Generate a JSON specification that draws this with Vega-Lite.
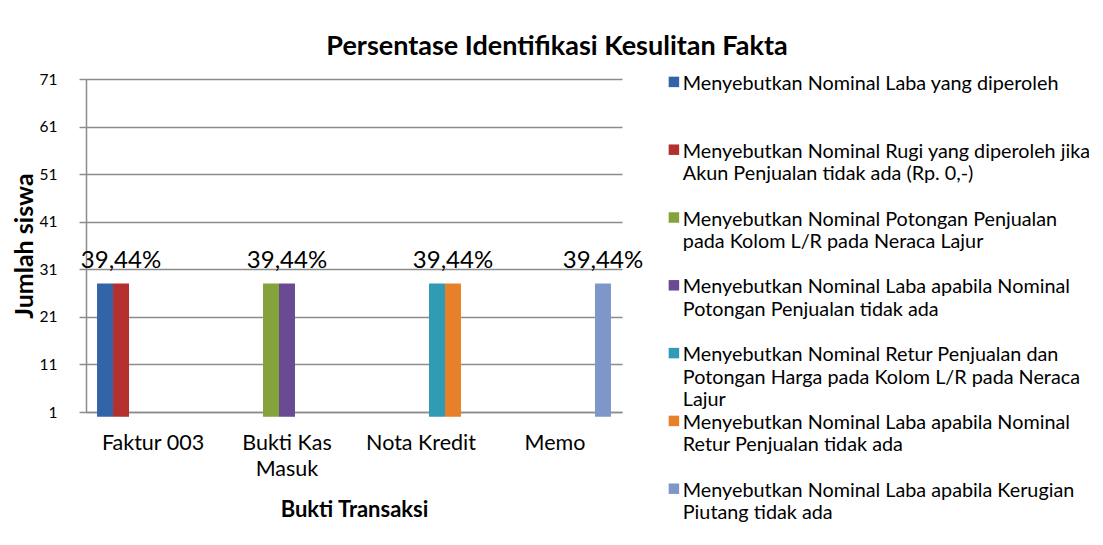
{
  "$schema": "https://vega.github.io/schema/vega-lite/v6.json",
  "width": 536,
  "height": 333,
  "padding": {"left": 12, "top": 33, "right": 5, "bottom": 5},
  "background": "white",
  "title": {
    "text": "Persentase Identifikasi Kesulitan Fakta",
    "font": "Lato",
    "fontSize": 27,
    "fontWeight": "bold",
    "color": "black",
    "anchor": "middle",
    "frame": "bounds",
    "offset": 11,
    "dx": 9
  },
  "config": {
    "font": "Lato",
    "view": {"stroke": null},
    "text": {"font": "Lato"}
  },
  "data": {
    "values": [
      {"bukti": "Faktur 003", "aspek": "Menyebutkan Nominal Laba yang diperoleh", "jumlah": 28, "persen": null},
      {"bukti": "Faktur 003", "aspek": "Menyebutkan Nominal Rugi yang diperoleh jika|Akun Penjualan tidak ada (Rp. 0,-)", "jumlah": 28, "persen": "39,44%"},
      {"bukti": "Bukti Kas Masuk", "aspek": "Menyebutkan Nominal Potongan Penjualan|pada Kolom L/R pada Neraca Lajur", "jumlah": 28, "persen": null},
      {"bukti": "Bukti Kas Masuk", "aspek": "Menyebutkan Nominal Laba apabila Nominal|Potongan Penjualan tidak ada", "jumlah": 28, "persen": "39,44%"},
      {"bukti": "Nota Kredit", "aspek": "Menyebutkan Nominal Retur Penjualan dan|Potongan Harga pada Kolom L/R pada Neraca|Lajur", "jumlah": 28, "persen": null},
      {"bukti": "Nota Kredit", "aspek": "Menyebutkan Nominal Laba apabila Nominal|Retur Penjualan tidak ada", "jumlah": 28, "persen": "39,44%"},
      {"bukti": "Memo", "aspek": "Menyebutkan Nominal Laba apabila Kerugian|Piutang tidak ada", "jumlah": 28, "persen": "39,44%"}
    ]
  },
  "encoding": {
    "x": {
      "field": "bukti",
      "type": "nominal",
      "sort": ["Faktur 003", "Bukti Kas Masuk", "Nota Kredit", "Memo"],
      "scale": {"paddingInner": 0, "paddingOuter": 0},
      "axis": {
        "title": "Bukti Transaksi",
        "titleFont": "Lato",
        "titleFontSize": 22,
        "titleFontWeight": "bold",
        "titleColor": "black",
        "titlePadding": 20,
        "labelAngle": 0,
        "labelFont": "Lato",
        "labelFontSize": 21.5,
        "labelColor": "black",
        "labelLineHeight": 26,
        "labelPadding": 20,
        "labelExpr": "datum.label == 'Bukti Kas Masuk' ? ['Bukti Kas', 'Masuk'] : datum.label",
        "ticks": false,
        "tickSize": 0,
        "domainColor": "#8c8c8c",
        "domainWidth": 1.5,
        "grid": false
      }
    },
    "xOffset": {
      "field": "aspek",
      "type": "nominal",
      "scale": {
        "domain": [
          "Menyebutkan Nominal Laba yang diperoleh",
          "Menyebutkan Nominal Rugi yang diperoleh jika|Akun Penjualan tidak ada (Rp. 0,-)",
          "Menyebutkan Nominal Potongan Penjualan|pada Kolom L/R pada Neraca Lajur",
          "Menyebutkan Nominal Laba apabila Nominal|Potongan Penjualan tidak ada",
          "Menyebutkan Nominal Retur Penjualan dan|Potongan Harga pada Kolom L/R pada Neraca|Lajur",
          "Menyebutkan Nominal Laba apabila Nominal|Retur Penjualan tidak ada",
          "Menyebutkan Nominal Laba apabila Kerugian|Piutang tidak ada"
        ],
        "paddingInner": 0,
        "paddingOuter": 0.69
      }
    },
    "y": {
      "field": "jumlah",
      "type": "quantitative",
      "scale": {"domain": [1, 71], "nice": false, "zero": false},
      "axis": {
        "title": "Jumlah siswa",
        "titleFont": "Lato",
        "titleFontSize": 25,
        "titleFontWeight": "bold",
        "titleColor": "black",
        "titlePadding": 2,
        "values": [1, 11, 21, 31, 41, 51, 61, 71],
        "labelFont": "Lato",
        "labelFontSize": 15.5,
        "labelColor": "black",
        "labelPadding": 22,
        "tickSize": 7,
        "tickColor": "#8c8c8c",
        "tickWidth": 1.5,
        "domainColor": "#8c8c8c",
        "domainWidth": 1.5,
        "gridColor": "#8c8c8c",
        "gridWidth": 1.5
      }
    }
  },
  "layer": [
    {
      "mark": {"type": "bar"},
      "encoding": {
        "color": {
          "field": "aspek",
          "type": "nominal",
          "scale": {
            "domain": [
              "Menyebutkan Nominal Laba yang diperoleh",
              "Menyebutkan Nominal Rugi yang diperoleh jika|Akun Penjualan tidak ada (Rp. 0,-)",
              "Menyebutkan Nominal Potongan Penjualan|pada Kolom L/R pada Neraca Lajur",
              "Menyebutkan Nominal Laba apabila Nominal|Potongan Penjualan tidak ada",
              "Menyebutkan Nominal Retur Penjualan dan|Potongan Harga pada Kolom L/R pada Neraca|Lajur",
              "Menyebutkan Nominal Laba apabila Nominal|Retur Penjualan tidak ada",
              "Menyebutkan Nominal Laba apabila Kerugian|Piutang tidak ada"
            ],
            "range": ["#3464a8", "#b3302f", "#84a33a", "#6a4a92", "#2f9bb5", "#e8802a", "#7d98c8"]
          },
          "legend": {
            "title": null,
            "orient": "right",
            "offset": 49,
            "padding": -7,
            "columns": 1,
            "rowPadding": 0.8,
            "symbolType": "square",
            "symbolSize": 110,
            "symbolStrokeWidth": 0,
            "symbolOpacity": 1,
            "labelFont": "Lato",
            "labelFontSize": 19.8,
            "labelColor": "black",
            "labelLimit": 500,
            "labelOffset": -1,
            "labelBaseline": "top",
            "labelExpr": "slice(split(datum.label + '| | ', '|'), 0, 3)",
            "encode": {
              "labels": {"update": {"lineHeight": {"value": 22.5}, "dy": {"value": -8}}}
            }
          }
        }
      }
    },
    {
      "transform": [{"filter": "datum.persen != null"}],
      "mark": {"type": "text", "baseline": "alphabetic", "dy": -16, "fontSize": 24, "font": "Lato", "color": "black"},
      "encoding": {
        "text": {"field": "persen", "type": "nominal"}
      }
    }
  ]
}
